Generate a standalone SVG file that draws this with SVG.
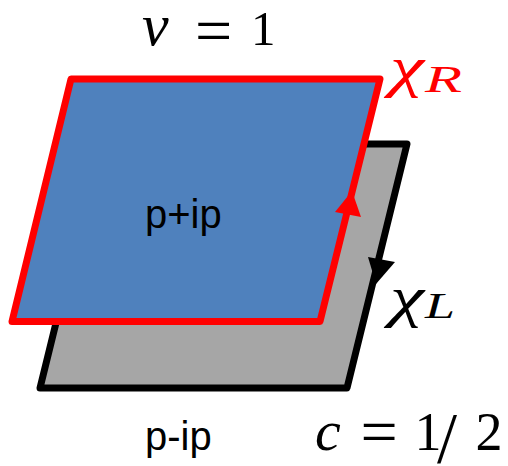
<svg xmlns="http://www.w3.org/2000/svg" width="508" height="466" viewBox="0 0 508 466">
<style>
.m{font-family:"Liberation Serif","Times New Roman",serif;font-style:italic}
.n{font-family:"Liberation Serif","Times New Roman",serif}
.s{font-family:"Liberation Sans",Arial,sans-serif;font-size:40px}
</style>
<rect width="508" height="466" fill="#fff"/>
<g id="p-ip">
<polygon points="100,144 407,144 347,388 40,388" fill="#A6A6A6" stroke="#000" stroke-width="7" stroke-linejoin="round"/>
<polygon points="368,257 395,262 376,284" fill="#000"/>
<text class="s" x="145" y="450">p-ip</text>
</g>
<g id="p+ip">
<polygon points="71,79 380,79 320,321.5 12,321.5" fill="#4F81BD" stroke="#FF0000" stroke-width="7" stroke-linejoin="round"/>
<polygon points="352,191 361,217 335,212" fill="#FF0000"/>
<text class="s" x="145" y="228">p+ip</text>
</g>
<g id="labels">
<text class="n" font-size="49"><tspan class="m" x="142" y="45" font-size="60">ν</tspan><tspan x="195" y="53" font-size="66">=</tspan><tspan x="251" y="45">1</tspan></text>
<text class="m" x="390" y="86" font-size="58" textLength="34" lengthAdjust="spacingAndGlyphs" fill="#FF0000">χ</text>
<text class="m" x="425" y="92" font-size="38" textLength="37" lengthAdjust="spacingAndGlyphs" fill="#FF0000">R</text>
<text class="m" x="390" y="316" font-size="58" textLength="34" lengthAdjust="spacingAndGlyphs">χ</text>
<text class="m" x="425" y="318" font-size="36" textLength="30" lengthAdjust="spacingAndGlyphs">L</text>
<text class="n" font-size="54"><tspan class="m" x="315" y="450" font-size="58">c</tspan><tspan x="360.5" y="454" font-size="66">=</tspan><tspan x="414.5" y="450">1</tspan><tspan x="437" y="462" font-size="72">/</tspan><tspan x="475.5" y="450">2</tspan></text>
</g>
</svg>
